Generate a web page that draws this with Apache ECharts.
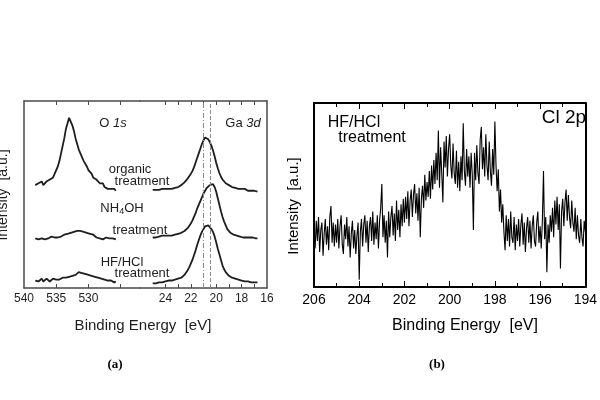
<!DOCTYPE html>
<html>
<head>
<meta charset="utf-8">
<script src="https://cdn.jsdelivr.net/npm/echarts@6/dist/echarts.min.js"></script>
<style>html,body{margin:0;padding:0;background:#fff}#c{width:600px;height:400px}</style>
</head>
<body>
<div id="c"></div>
<script>
// ---------- DATA ----------
// Panel (a) O 1s region: energies start 538.25 eV, step 0.25 eV (decreasing)
const o1sStart = 538.25, o1sStep = 0.25;
const o1sOrganic = [55,54,56,55,57,55,56,57,56,58,57,59,61,62,65,68,72,76,80,85,88,91,90,87,84,80,77,74,72,70,68,67,65,63,62,61,59,58,58,57,56,55,56,54,55,53,54,53,52,53,52];
const o1sNH4OH = [26.5,27,26,27,26.5,27.5,26,27,26.5,27,27.5,26.5,27,27.5,27,28,27.5,28,28.5,28,29,28.5,29.5,29,30,29.5,30.5,30,30.5,29.5,30,29,29.5,28.5,29,28,28.5,27.5,27,27.5,26.5,27,26,26.5,27,26,26.5,25.5,26.5,26,26];
const o1sHFHCl = [4,5,3.5,4.5,5,3.5,4,5,4,3.5,4.5,5,4,4.5,5.5,4.5,5,5.5,6,5.5,6.5,6,7,6.5,7.5,7,8,8.5,7.5,8,7,7.5,6.5,7,6,6.5,5.5,6,5,5.5,4.5,5,4,4.5,3.5,4,3,4,3.5,3,3.5];
// Panel (a) Ga 3d region: energies start 25 eV, step 0.125 eV (decreasing)
const gaStart = 25, gaStep = 0.125;
const gaOrganic = [52.5,52,52.5,52,52.5,52.5,53,52.5,53,53,53,53.5,53,53.5,53.5,54,54,54.5,55,55.5,56.5,57.5,58.5,59.5,61,62.5,64.5,67,69.5,72,74.5,77,79,80.5,80,79.5,78,76,73.5,70.5,67,64,61.5,59.5,58,57,56,55.5,55,54.5,54,54,53.5,53.5,53,53.5,53,52.5,53,52.5,52,52.5,52,51.5,52,51.5,51.5];
const gaNH4OH = [27,27.5,27,27.5,27.5,27.5,28,27.5,28,28,28,28.5,28,28.5,28.5,29,29,29,29.5,30,30.5,31,32,33,34.5,36,38,40,42.5,44.5,46.5,48.5,50.5,52,53.5,54.5,55,55.5,55.5,54,51.5,48,44.5,41,38,35.5,33.5,31.5,30.5,29.5,29,28.5,28,28,27.5,27.5,27.5,27,27.5,27,27,27,26.5,27,26.5,26.5,26.5];
const gaHFHCl = [2.5,3,2.5,3,3,3.5,3,3.5,3.5,3.5,4,3.5,4,4,4.5,4.5,5,5,5.5,6,7,8,9.5,11,13,15,17.5,20,23,25.5,28,30,31.5,33,34,33.5,32.5,31.5,30,27.5,24.5,21,18,15,12,10,8.5,7.5,6.5,6,5.5,5,5,4.5,4.5,4,4,4,3.5,4,3.5,3.5,3,3.5,3,3,3];
const gaRefLines = [21.05, 20.45];
// Panel (b) Cl 2p: energies start 206 eV, step 0.05 eV (decreasing)
const clStart = 206, clStep = 0.05;
const cl2p = [
 33,21,36,25,38,19,31,35,17,29,37,23,33,20,38,44,24,35,22,34,
 24,37,21,33,39,23,18,34,26,38,22,33,16,29,36,21,31,18,28,35,
 4,30,37,22,34,39,24,36,19,33,38,25,41,23,35,26,39,21,36,43,
 56,27,39,24,36,16,41,27,38,44,28,40,25,47,31,42,27,45,33,48,
 35,49,37,52,33,47,53,38,50,56,40,51,36,54,27,48,55,43,61,47,
 57,49,63,48,66,53,69,56,73,58,85,54,76,62,46,79,65,82,60,75,
 83,66,59,78,62,56,74,54,68,52,71,58,89,63,55,75,60,71,54,73,
 61,31,73,58,77,62,56,80,87,64,76,60,83,66,58,79,63,55,75,61,
 90,66,52,64,41,53,35,45,30,20,39,25,37,22,41,27,24,38,20,34,
 25,37,22,34,40,23,35,19,32,38,24,36,21,33,39,25,22,35,41,24,
 33,21,36,63,26,38,8,34,24,39,30,43,27,47,34,49,31,45,10,41,
 48,33,46,53,36,50,38,32,47,35,30,43,26,39,28,24,37,27,22,36,
 30];
const aLeftLabels = [540, 535, 530];
const aLeftTicks = [535, 530, 525];
const aRightLabels = [24, 22, 20, 18, 16];
const aRightTicks = [24, 23, 22, 21, 20, 19, 18, 17];

// ---------- BUILD ----------
function pairs(vals, start, step) {
  return vals.map((v, i) => [+(start - i * step).toFixed(4), v]);
}
const SANS = '"Liberation Sans", Arial, sans-serif';
const aCol = '#1e1e1e', aBox = '#4a4a4a';

function xAx(grid, min, max, pos, labels, ticks, show) {
  return {
    type: 'value', gridIndex: grid, min: min, max: max, inverse: true, position: pos,
    axisLine: { show: true, onZero: false, lineStyle: { color: aBox, width: 1.5 } },
    axisTick: { show: true, inside: true, length: 4, customValues: ticks, lineStyle: { color: aBox, width: 1 } },
    axisLabel: { show: show, customValues: labels, color: aCol, fontFamily: SANS, fontSize: 12, margin: 5 },
    splitLine: { show: false }
  };
}
function yAx(grid, pos, col, w) {
  return {
    type: 'value', gridIndex: grid, min: 0, max: 100, position: pos,
    axisLine: { show: true, onZero: false, lineStyle: { color: col, width: w } },
    axisTick: { show: false }, axisLabel: { show: false }, splitLine: { show: false }
  };
}
function bAx(pos, show) {
  return {
    type: 'value', gridIndex: 2, min: 194, max: 206, interval: 2, inverse: true, position: pos,
    axisLine: { show: true, onZero: false, lineStyle: { color: '#000', width: 2 } },
    axisTick: { show: true, inside: true, length: 6, lineStyle: { color: '#000', width: 1 } },
    minorTick: { show: true, splitNumber: 2, length: 4, lineStyle: { color: '#000', width: 1 } },
    axisLabel: { show: show, color: '#000', fontFamily: SANS, fontSize: 14, margin: 6 },
    splitLine: { show: false }
  };
}
function line(name, xi, yi, data, col, w) {
  return { name: name, type: 'line', xAxisIndex: xi, yAxisIndex: yi, data: data, showSymbol: false,
    symbol: 'none', lineStyle: { color: col, width: w }, silent: true, animation: false };
}
function txt(x, y, text, size, opts) {
  opts = opts || {};
  return { type: 'text', x: x, y: y, rotation: opts.rot || 0, silent: true,
    style: { text: text, fill: opts.fill || aCol, font: (opts.weight || 'normal') + ' ' + size + 'px ' + (opts.family || SANS),
      align: opts.align || 'center', verticalAlign: 'middle', rich: opts.rich } };
}

const gaLast = line('HF/HCl Ga', 2, 1, pairs(gaHFHCl, gaStart, gaStep), aCol, 1.8);
gaLast.markLine = { silent: true, symbol: ['none', 'none'], label: { show: false },
  data: [ { xAxis: gaRefLines[0], lineStyle: { color: '#8a8a8a', width: 1, type: [5, 2, 1, 2] } },
          { xAxis: gaRefLines[1], lineStyle: { color: '#8a8a8a', width: 1, type: [4, 2] } } ] };

const richA = { n: { fontSize: 13, fontFamily: SANS, fill: aCol }, i: { fontSize: 13, fontFamily: SANS, fontStyle: 'italic', fill: aCol },
  s: { fontSize: 9, fontFamily: SANS, fill: aCol, padding: [7, 0, 0, 0] } };

const option = {
  animation: false,
  backgroundColor: '#fff',
  grid: [
    { left: 24, top: 101, width: 116, height: 187 },
    { left: 140, top: 101, width: 127, height: 187 },
    { left: 314, top: 103, width: 279, height: 184 }
  ],
  xAxis: [
    xAx(0, 522, 540, 'bottom', aLeftLabels, aLeftTicks, true),
    xAx(0, 522, 540, 'top', aLeftLabels, aLeftTicks, false),
    xAx(1, 16, 26, 'bottom', aRightLabels, aRightTicks, true),
    xAx(1, 16, 26, 'top', aRightLabels, aRightTicks, false),
    bAx('bottom', true),
    bAx('top', false)
  ],
  yAxis: [
    yAx(0, 'left', aBox, 1.5),
    yAx(1, 'right', aBox, 1.5),
    yAx(2, 'left', '#000', 2),
    yAx(2, 'right', '#000', 2)
  ],
  series: [
    line('organic O', 0, 0, pairs(o1sOrganic, o1sStart, o1sStep), aCol, 1.8),
    line('NH4OH O', 0, 0, pairs(o1sNH4OH, o1sStart, o1sStep), aCol, 1.8),
    line('HF/HCl O', 0, 0, pairs(o1sHFHCl, o1sStart, o1sStep), aCol, 1.8),
    line('organic Ga', 2, 1, pairs(gaOrganic, gaStart, gaStep), aCol, 1.8),
    line('NH4OH Ga', 2, 1, pairs(gaNH4OH, gaStart, gaStep), aCol, 1.8),
    gaLast,
    line('Cl 2p', 4, 2, pairs(cl2p, clStart, clStep), '#000', 1.1)
  ],
  graphic: [
    txt(113, 123, '{n|O }{i|1s}', 13, { rich: richA }),
    txt(243, 123, '{n|Ga }{i|3d}', 13, { rich: richA }),
    txt(130, 169, 'organic', 13),
    txt(142, 181, 'treatment', 13),
    txt(122, 208, '{n|NH}{s|4}{n|OH}', 13, { rich: richA }),
    txt(140, 230, 'treatment', 13),
    txt(122, 262, 'HF/HCl', 13),
    txt(142, 273, 'treatment', 13),
    txt(3, 195, 'Intensity  [a.u.]', 14, { rot: Math.PI / 2 }),
    txt(143, 326, 'Binding Energy  [eV]', 15),
    txt(115, 365, '(a)', 13, { weight: 'bold', family: '"Liberation Serif", serif', fill: '#000' }),
    txt(354, 123, 'HF/HCl', 16, { fill: '#000' }),
    txt(372, 138, 'treatment', 16, { fill: '#000' }),
    txt(564, 118, 'Cl 2p', 19, { fill: '#000' }),
    txt(294, 206, 'Intensity  [a.u.]', 15, { rot: Math.PI / 2, fill: '#000' }),
    txt(465, 326, 'Binding Energy  [eV]', 16, { fill: '#000' }),
    txt(437, 365, '(b)', 13, { weight: 'bold', family: '"Liberation Serif", serif', fill: '#000' })
  ]
};
const chart = echarts.init(document.getElementById('c'), null, { renderer: 'canvas' });
chart.setOption(option);
</script>
</body>
</html>
